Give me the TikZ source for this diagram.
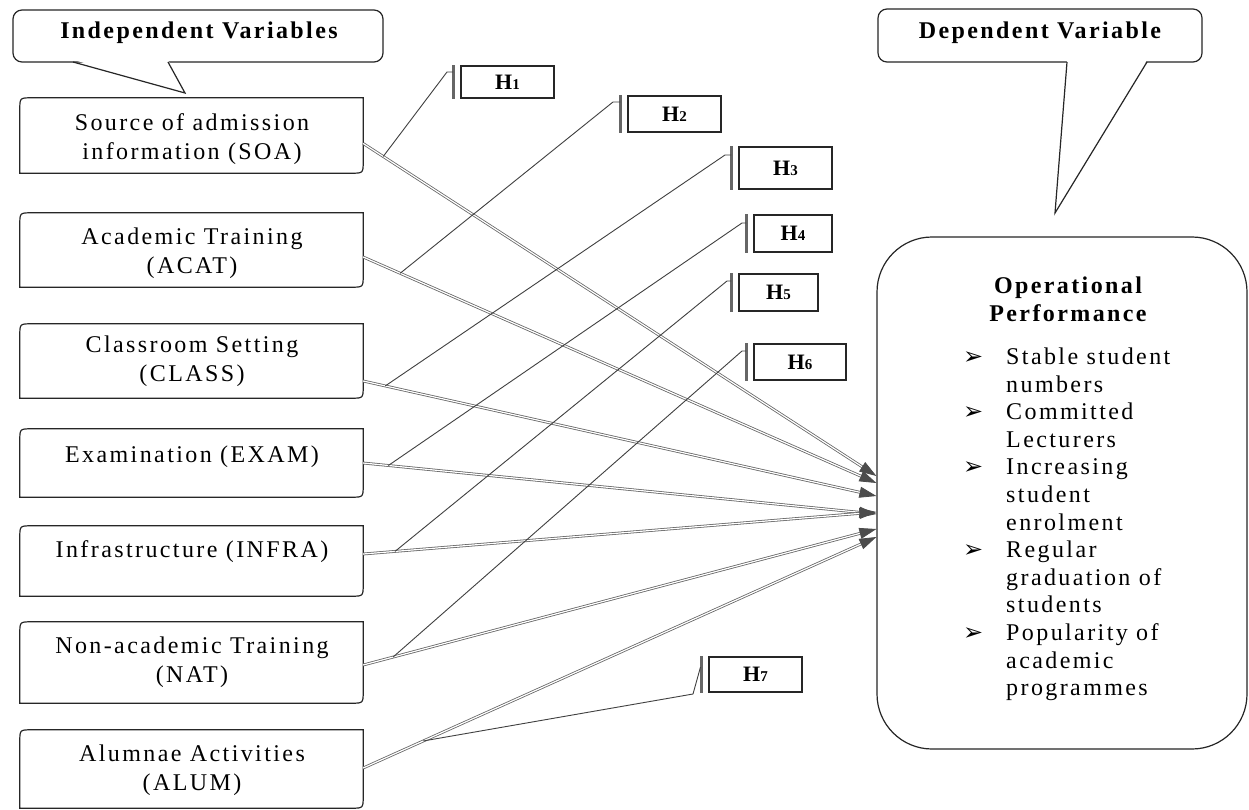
\documentclass[tikz,border=0pt]{standalone}
\usepackage{fontspec}
\setmainfont{Liberation Serif}[LetterSpace=10]
\newfontfamily\bulfont{DejaVu Sans}
\usetikzlibrary{arrows.meta,calc}
\newcommand\roundbox[1]{\draw[boxline] ([yshift=-12pt]#1.north west) .. controls (#1.north west) .. ([xshift=12pt]#1.north west) -- (#1.north east) -- ([yshift=12pt]#1.south east) .. controls (#1.south east) .. ([xshift=-12pt]#1.south east) -- (#1.south west) -- cycle;}
\newcommand\hlab[1]{H{\fontsize{15}{16}\selectfont #1}}
\newcommand\bul{\makebox[51pt][l]{\hspace{8pt}{\bulfont\fontsize{24}{27.6}\selectfont ➢}}}
\begin{document}
\begin{tikzpicture}[x=1pt,y=-1pt,
  boxline/.style={draw=black!85,line width=1.2pt},
  vbox/.style={inner sep=0pt,minimum width=343pt},
  vtxt/.style={inner sep=0pt,align=center,font=\fontsize{24}{29}\selectfont},
  ttl/.style={inner sep=0pt,align=center,font=\fontsize{24}{28}\selectfont\bfseries},
  hbox/.style={draw=black!85,line width=1.3pt,inner sep=0pt,font=\fontsize{22}{24}\selectfont\bfseries},
  bar/.style={draw=black!60,line width=2.4pt},
  lead/.style={draw=black!75,line width=0.9pt},
  arr/.style={draw=black!60,double=white,double distance=1.2pt,line width=0.8pt,-{Triangle[length=17pt,width=11pt,color=black!70,fill=black!70]}},
  callout/.style={draw=black!85,line width=1.2pt,rounded corners=9pt,inner sep=0pt,fill=white}
]
\useasboundingbox (0,0) rectangle (1249,810);
\fill[white] (0,0) rectangle (1249,810);

% left boxes
\node[vbox,minimum height=75pt] (soa) at (191.5,135.5) {};
\node[vbox,minimum height=74pt] (acat) at (191.5,250) {};
\node[vbox,minimum height=74pt] (class) at (191.5,361) {};
\node[vbox,minimum height=68pt] (exam) at (191.5,463) {};
\node[vbox,minimum height=70pt] (infra) at (191.5,561) {};
\node[vbox,minimum height=81pt] (nat) at (191.5,662.5) {};
\node[vbox,minimum height=78pt] (alum) at (191.5,769) {};
\roundbox{soa}\roundbox{acat}\roundbox{class}\roundbox{exam}\roundbox{infra}\roundbox{nat}\roundbox{alum}

\node[vtxt] (soat) at (192,139) {Source of admission\\information (SOA)};
\node[vtxt] (acatt) at (192,253.5) {Academic Training\\(ACAT)};
\node[vtxt] (classt) at (192,361.5) {Classroom Setting\\(CLASS)};
\node[vtxt] (examt) at (192,457) {Examination (EXAM)};
\node[vtxt] (infrat) at (192,552) {Infrastructure (INFRA)};
\node[vtxt] (natt) at (192,662.5) {Non-academic Training\\(NAT)};
\node[vtxt] (alumt) at (192,770.5) {Alumnae Activities\\(ALUM)};

% callouts
\node[callout,minimum width=370pt,minimum height=52pt] (iv) at (198,36) {};
\fill[white] (74,60) -- (185,93) -- (168,60) -- cycle;
\draw[boxline,line join=miter] (73,62) -- (185,93) coordinate (ivtip) -- (168,62);
\node[ttl] (ivt) at (199,33) {Independent Variables};

\node[callout,minimum width=324pt,minimum height=53pt] (dv) at (1040,35.5) {};
\fill[white] (1067,60) -- (1055,213) -- (1147,60) -- cycle;
\draw[boxline,line join=miter] (1067,62) -- (1055,213) coordinate (dvtip) -- (1147,62);
\node[ttl] (dvt) at (1040,33) {Dependent Variable};

% dependent box
\node[draw=black!85,line width=1.2pt,rounded corners=55pt,minimum width=370pt,minimum height=512pt,inner sep=0pt] (op) at (1062,493) {};
\node[ttl] (opt) at (1068,299) {Operational\\Performance};
\node[inner sep=0pt,anchor=north west] (list) at (955,345) {\fontsize{24}{27.6}\selectfont
\begin{tabular}{@{}l@{}l@{}}
\bul & Stable student\\
 & numbers\\
\bul & Committed\\
 & Lecturers\\
\bul & Increasing\\
 & student\\
 & enrolment\\
\bul & Regular\\
 & graduation of\\
 & students\\
\bul & Popularity of\\
 & academic\\
 & programmes
\end{tabular}};

% arrows
\draw[arr] ([yshift=-8pt]soa.east) -- ([yshift=17pt]op.west) coordinate[pos=0.039] (l1);
\draw[arr] ([yshift=-7pt]acat.east) -- ([yshift=10pt]op.west) coordinate[pos=0.072] (l2);
\draw[arr] ([yshift=-20pt]class.east) -- ([yshift=-3pt]op.west) coordinate[pos=0.043] (l3);
\draw[arr] (exam.east) -- ([yshift=-21pt]op.west) coordinate[pos=0.049] (l4);
\draw[arr] ([yshift=7pt]infra.east) -- ([yshift=-19pt]op.west) coordinate[pos=0.062] (l5);
\draw[arr] ([yshift=-2.5pt]nat.east) -- ([yshift=-36pt]op.west) coordinate[pos=0.058] (l6);
\draw[arr] ([yshift=1pt]alum.east) -- ([yshift=-44pt]op.west) coordinate[pos=0.117] (l7);

% hypothesis boxes
\node[hbox,minimum width=93pt,minimum height=32pt] (h1) at (507.5,82) {\hlab{1}};
\node[hbox,minimum width=93pt,minimum height=36pt] (h2) at (674.5,114) {\hlab{2}};
\node[hbox,minimum width=93pt,minimum height=42pt] (h3) at (785.5,168) {\hlab{3}};
\node[hbox,minimum width=78pt,minimum height=37pt] (h4) at (793,233.5) {\hlab{4}};
\node[hbox,minimum width=79pt,minimum height=37pt] (h5) at (778.5,292.5) {\hlab{5}};
\node[hbox,minimum width=92pt,minimum height=36pt] (h6) at (800,362) {\hlab{6}};
\node[hbox,minimum width=93pt,minimum height=35pt] (h7) at (755.5,674.5) {\hlab{7}};

\foreach \h in {1,...,7}{
  \coordinate (b\h) at ([xshift=-7pt]h\h.north west);
  \draw[bar] ([xshift=-7pt]h\h.north west) -- ([xshift=-7pt]h\h.south west);
}
\coordinate (e1) at (447,72);
\coordinate (e2) at (613,102);
\coordinate (e3) at (725,155);
\coordinate (e4) at (742,223);
\coordinate (e5) at (727,281);
\coordinate (e6) at (742,351);
\coordinate (e7) at (693,694);
\coordinate (f7) at (700.5,667);
\foreach \h in {1,...,6}{
  \draw[lead] (l\h) -- (e\h) -- (b\h |- e\h);
}
\draw[lead] (l7) -- (e7) -- (f7);
\end{tikzpicture}
\end{document}
